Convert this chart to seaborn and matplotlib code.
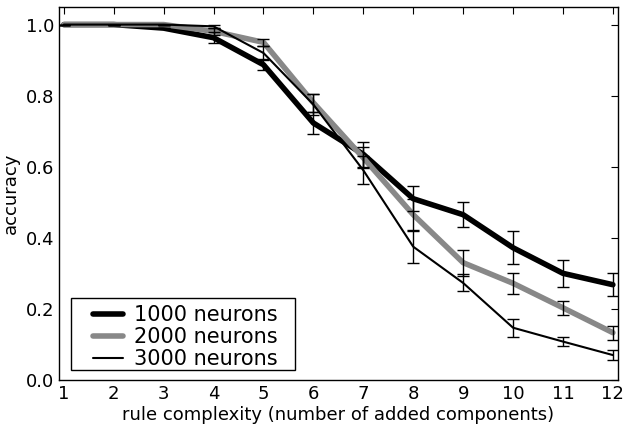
import numpy as np
import pandas as pd
import matplotlib
matplotlib.use("Agg")
import matplotlib.pyplot as plt
from matplotlib.patches import Rectangle
import seaborn as sns

# values
complexity = [1, 2, 3, 4, 5, 6, 7, 8, 9, 10, 11, 12]
acc_1000 = [1.0, 1.0, 0.99, 0.963, 0.887, 0.723, 0.635, 0.51, 0.465, 0.372, 0.30, 0.268]
err_1000 = [0.0, 0.0, 0.0, 0.015, 0.016, 0.03, 0.035, 0.036, 0.035, 0.046, 0.038, 0.033]
acc_2000 = [1.0, 1.0, 1.0, 0.981, 0.95, 0.78, 0.625, 0.465, 0.33, 0.272, 0.203, 0.133]
err_2000 = [0.0, 0.0, 0.0, 0.01, 0.01, 0.025, 0.03, 0.045, 0.037, 0.03, 0.02, 0.02]
acc_3000 = [1.0, 1.0, 1.0, 0.995, 0.92, 0.775, 0.59, 0.375, 0.273, 0.147, 0.108, 0.07]
err_3000 = [0.0, 0.0, 0.0, 0.005, 0.02, 0.03, 0.04, 0.046, 0.024, 0.025, 0.013, 0.013]
labels = ["1000 neurons", "2000 neurons", "3000 neurons"]

sns.set_style("white")
plt.rcParams['font.family'] = ['DejaVu Sans']
plt.rcParams['text.color'] = 'black'
plt.rcParams['axes.labelcolor'] = 'black'
plt.rcParams['xtick.color'] = 'black'
plt.rcParams['ytick.color'] = 'black'

df = pd.DataFrame({
    'complexity': complexity * 3,
    'accuracy': acc_1000 + acc_2000 + acc_3000,
    'model': [labels[0]] * 12 + [labels[1]] * 12 + [labels[2]] * 12,
})

fig = plt.figure(figsize=(6.26, 4.25), dpi=100)
ax = fig.add_axes([0.094, 0.106, 0.893, 0.878])

sns.lineplot(data=df, x='complexity', y='accuracy', hue='model', size='model',
             palette={labels[0]: 'black', labels[1]: '#888888', labels[2]: 'black'},
             sizes={labels[0]: 4, labels[1]: 4, labels[2]: 1.5},
             ax=ax, zorder=2)

for acc, err in [(acc_1000, err_1000), (acc_2000, err_2000), (acc_3000, err_3000)]:
    ax.errorbar(complexity, acc, yerr=err, fmt='none', ecolor='black',
                elinewidth=1, capsize=4, capthick=1, zorder=3)

ax.set_xlim(0.9, 12.1)
ax.set_ylim(0, 1.05)
ax.set_xticks(complexity)
ax.set_yticks([0.0, 0.2, 0.4, 0.6, 0.8, 1.0])
ax.set_yticklabels(['0.0', '0.2', '0.4', '0.6', '0.8', '1.0'])
ax.tick_params(direction='in', top=True, right=True, length=5, width=0.8,
               labelsize=13, pad=3.5)
for s in ax.spines.values():
    s.set_color('black')
    s.set_linewidth(1)

ax.set_xlabel('rule complexity (number of added components)', fontsize=13, labelpad=2)
ax.set_ylabel('accuracy', fontsize=13, labelpad=4)

# legend box frame, drawn separately so the padding can match
frame = Rectangle((0.0214, 0.0268), 0.4016, 0.193, transform=ax.transAxes,
                  facecolor='white', edgecolor='black', linewidth=1, zorder=4)
ax.add_patch(frame)
leg = ax.legend(loc='upper left', fontsize=15, frameon=False,
                handlelength=1.45, handletextpad=0.55, borderpad=0,
                borderaxespad=0, labelspacing=0.1,
                bbox_to_anchor=(0.0607, 0.2))
leg.set_zorder(5)

fig.savefig('out.png', dpi=100)
